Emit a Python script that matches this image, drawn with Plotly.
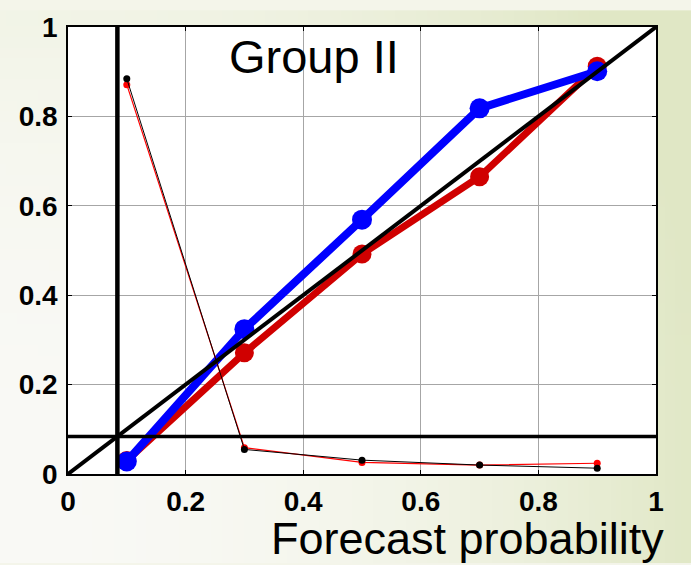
import base64
import struct
import zlib

import plotly.graph_objects as go

# Reliability diagram data: forecast probability bins and observed frequencies
prob_bins = [0.1, 0.3, 0.5, 0.7, 0.9]
obs_freq_blue = [0.028, 0.324, 0.569, 0.818, 0.901]
obs_freq_red = [0.030, 0.271, 0.492, 0.665, 0.912]
# Relative frequency of forecasts in each bin (sharpness)
fcst_freq_black = [0.884, 0.055, 0.031, 0.020, 0.013]
fcst_freq_red = [0.871, 0.059, 0.026, 0.020, 0.024]
# Sample climatology
climatology = 0.084
diag = [0, 1]
tick_vals = [0, 0.2, 0.4, 0.6, 0.8, 1]
tick_text = ["0", "0.2", "0.4", "0.6", "0.8", "1"]

W, H = 691, 565
ML, MR, MT, MB = 68, 35, 17, 91


def gradient_png(w, h):
    light = (249, 249, 245)
    green = (224, 231, 197)
    rows = []
    for j in range(h):
        v = j / (h - 1)
        row = bytearray([0])
        for i in range(w):
            u = i / (w - 1)
            t = 0.95 * u ** 2.2 + 0.3 * (1 - v) ** 3
            t = max(0.0, min(1.0, t))
            for a, b in zip(light, green):
                row.append(int(round(a + (b - a) * t)))
        rows.append(bytes(row))
    raw = b"".join(rows)

    def chunk(tag, data):
        c = struct.pack(">I", len(data)) + tag + data
        return c + struct.pack(">I", zlib.crc32(tag + data) & 0xFFFFFFFF)

    png = b"\x89PNG\r\n\x1a\n"
    png += chunk(b"IHDR", struct.pack(">IIBBBBB", w, h, 8, 2, 0, 0, 0))
    png += chunk(b"IDAT", zlib.compress(raw, 9))
    png += chunk(b"IEND", b"")
    return "data:image/png;base64," + base64.b64encode(png).decode()


fig = go.Figure()

fig.add_trace(go.Scatter(
    x=prob_bins, y=obs_freq_red, mode="lines+markers",
    line=dict(color="#d00000", width=7),
    marker=dict(color="#d00000", size=19),
))
fig.add_trace(go.Scatter(
    x=prob_bins, y=obs_freq_blue, mode="lines+markers",
    line=dict(color="#0000ff", width=8),
    marker=dict(color="#0000ff", size=20),
))
fig.add_trace(go.Scatter(
    x=prob_bins, y=fcst_freq_red, mode="lines+markers",
    line=dict(color="#ff0000", width=1.2),
    marker=dict(color="#ff0000", size=7),
))
fig.add_trace(go.Scatter(
    x=prob_bins, y=fcst_freq_black, mode="lines+markers",
    line=dict(color="#000000", width=1),
    marker=dict(color="#000000", size=7),
))
# Perfect reliability diagonal and climatology lines
fig.add_trace(go.Scatter(
    x=diag, y=diag, mode="lines", line=dict(color="black", width=4),
))
fig.add_trace(go.Scatter(
    x=[climatology, climatology], y=diag, mode="lines",
    line=dict(color="black", width=4.5),
))
fig.add_trace(go.Scatter(
    x=diag, y=[climatology, climatology], mode="lines",
    line=dict(color="black", width=3.5),
))

pw, ph = W - ML - MR, H - MT - MB
fig.add_layout_image(
    source=gradient_png(64, 52),
    xref="paper", yref="paper",
    x=-ML / pw, y=1 + MT / ph,
    sizex=W / pw, sizey=H / ph,
    xanchor="left", yanchor="top",
    sizing="stretch", layer="below",
)
# White plotting area on top of the page gradient, beneath the grid
fig.add_shape(type="rect", xref="paper", yref="paper", x0=0, y0=0, x1=1, y1=1,
              fillcolor="white", line=dict(width=0), layer="below")

axis_common = dict(
    range=[0, 1], tickvals=tick_vals, ticktext=tick_text,
    showgrid=True, gridcolor="#a6a6a6", gridwidth=1,
    zeroline=False, showline=True, linecolor="black", linewidth=1.5,
    mirror="ticks", ticks="inside", ticklen=4, tickcolor="black",
    tickfont=dict(family="Liberation Sans", size=28, color="black", weight="bold"),
)

fig.update_layout(
    width=W, height=H,
    margin=dict(l=ML, r=MR, t=MT, b=MB),
    paper_bgcolor="#f4f5ea",
    plot_bgcolor="white",
    showlegend=False,
    xaxis=dict(**axis_common, ticklabelstandoff=2),
    yaxis=dict(**axis_common, ticklabelstandoff=3),
    annotations=[
        dict(text="Group II", x=0.418, y=0.935, xref="x", yref="y",
             showarrow=False, xanchor="center", yanchor="middle",
             font=dict(family="Liberation Sans", size=47, color="black")),
        dict(text="Forecast probability", x=1.015, y=-0.145,
             xref="paper", yref="paper", showarrow=False,
             xanchor="right", yanchor="middle", borderpad=0,
             font=dict(family="Liberation Sans", size=45, color="black")),
    ],
)

fig.write_html("out.html")
